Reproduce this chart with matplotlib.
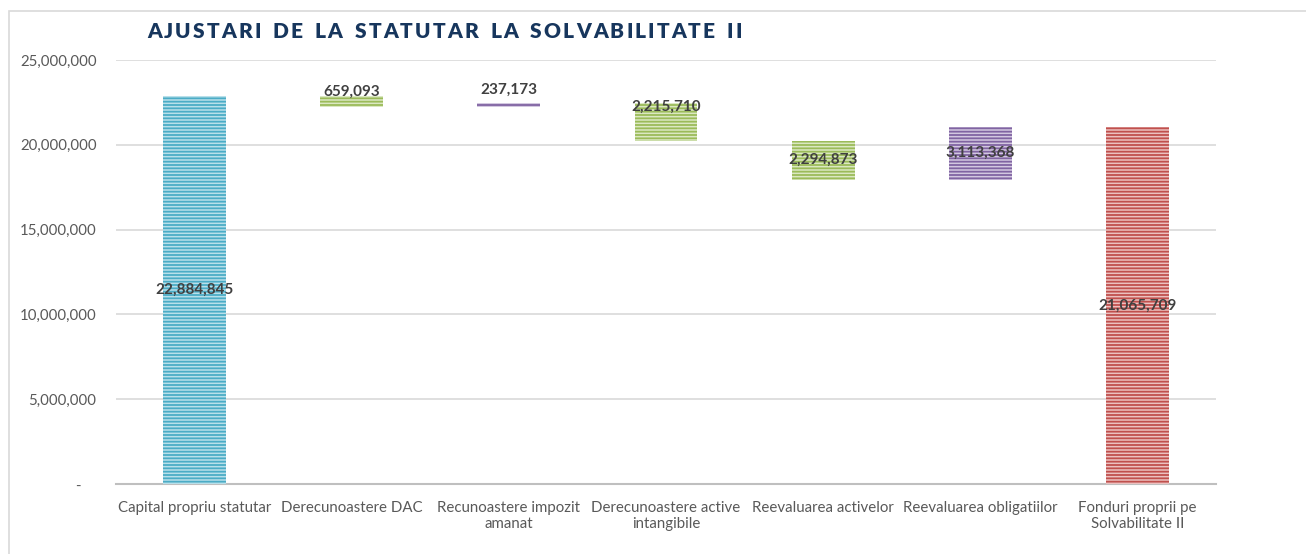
import matplotlib
matplotlib.use("Agg")
import matplotlib.pyplot as plt
from matplotlib.patches import Rectangle
from matplotlib.ticker import FuncFormatter

categories = ["Capital propriu statutar", "Derecunoastere DAC", "Recunoastere impozit\namanat",
              "Derecunoastere active\nintangibile", "Reevaluarea activelor",
              "Reevaluarea obligatiilor", "Fonduri proprii pe\nSolvabilitate II"]
values = [22884845, -659093, 237173, -2215710, -2294873, 3113368, 21065709]
is_total = [True, False, False, False, False, False, True]
labels = ["22,884,845", "659,093", "237,173", "2,215,710", "2,294,873", "3,113,368", "21,065,709"]
yticks = [0, 5000000, 10000000, 15000000, 20000000, 25000000]
title = "AJUSTARI DE LA STATUTAR LA SOLVABILITATE II"

styles = {
    "blue": ("#b9e0ea", "#4bacc6"),
    "green": ("#dbe8c2", "#9bbb59"),
    "purple": ("#d3c8e0", "#8064a2"),
    "red": ("#ecc1c0", "#c0504d"),
}
bar_style = ["blue", "green", "purple", "green", "green", "purple", "red"]
# label placement: None = centred in bar, number = pixel offset from bar top
label_off = [None, 4, 13, -4, None, None, None]

plt.rcParams["hatch.linewidth"] = 1.3
W, H = 1306, 554
fig = plt.figure(figsize=(W / 100, H / 100), dpi=100)
ax = fig.add_axes([116 / W, 1 - 484 / H, 1100 / W, 424 / H])

# frame
fig.patches.append(Rectangle((9 / W, -0.1), 1.2, 1 - 11 / H + 0.1, transform=fig.transFigure,
                             fill=False, edgecolor="#d9d9d9", linewidth=1.2))

x = list(range(len(categories)))
running = 0
for i, (v, tot) in enumerate(zip(values, is_total)):
    if tot:
        bottom, height = 0, v
        running = v
    else:
        new = running + v
        bottom, height = min(running, new), abs(v)
        running = new
    fc, hc = styles[bar_style[i]]
    ax.bar(i, height, bottom=bottom, width=0.4, color=fc, edgecolor=hc, linewidth=0,
           hatch="-----", zorder=3)
    if label_off[i] is None:
        ax.text(i, bottom + height / 2, labels[i], ha="center", va="center", fontsize=11,
                fontweight="bold", color="#404040", family="Lato", zorder=5)
    else:
        ax.annotate(labels[i], (i, bottom + height), xytext=(0, label_off[i] * 0.72),
                    textcoords="offset points", ha="center", va="center", fontsize=11,
                    fontweight="bold", color="#404040", family="Lato", zorder=5)

ax.set_xlim(-0.5, len(categories) - 0.5)
ax.set_ylim(0, 25000000)
ax.set_yticks(yticks)
ax.yaxis.set_major_formatter(FuncFormatter(lambda v, p: "-    " if v == 0 else f"{int(v):,}"))
ax.set_xticks(x)
ax.set_xticklabels(categories, multialignment="center")
for lab in ax.get_xticklabels() + ax.get_yticklabels():
    lab.set_family("Lato")
    lab.set_fontsize(10.8)
    lab.set_color("#595959")
ax.tick_params(axis="both", length=0)
ax.tick_params(axis="y", pad=14)
ax.tick_params(axis="x", pad=12)
ax.grid(axis="y", color="#d9d9d9", linewidth=1.2, zorder=0)
for s in ["top", "right", "left"]:
    ax.spines[s].set_visible(False)
ax.spines["bottom"].set_color("#bfbfbf")
ax.spines["bottom"].set_linewidth(1.5)
ax.set_facecolor("none")

# letter-spaced title
renderer = fig.canvas.get_renderer()
x0, x1 = 147.0, 742.0
word_gap = 12.0
words = title.split(" ")
items = []
for wi, word in enumerate(words):
    for ci, ch in enumerate(word):
        t = fig.text(0, 1 - 31 / H, ch, ha="left", va="center", fontsize=15,
                     fontweight="heavy", color="#17365d", family="Lato")
        items.append((t, t.get_window_extent(renderer).width, ci == len(word) - 1 and wi < len(words) - 1))
L = sum(w for _, w, _ in items)
n_intra = sum(len(w) - 1 for w in words)
g = (x1 - x0 - L - word_gap * (len(words) - 1)) / n_intra
pos = x0
for t, w, end_word in items:
    t.set_x(pos / W)
    pos += w + (word_gap if end_word else g)

fig.savefig("out.png", dpi=100)
